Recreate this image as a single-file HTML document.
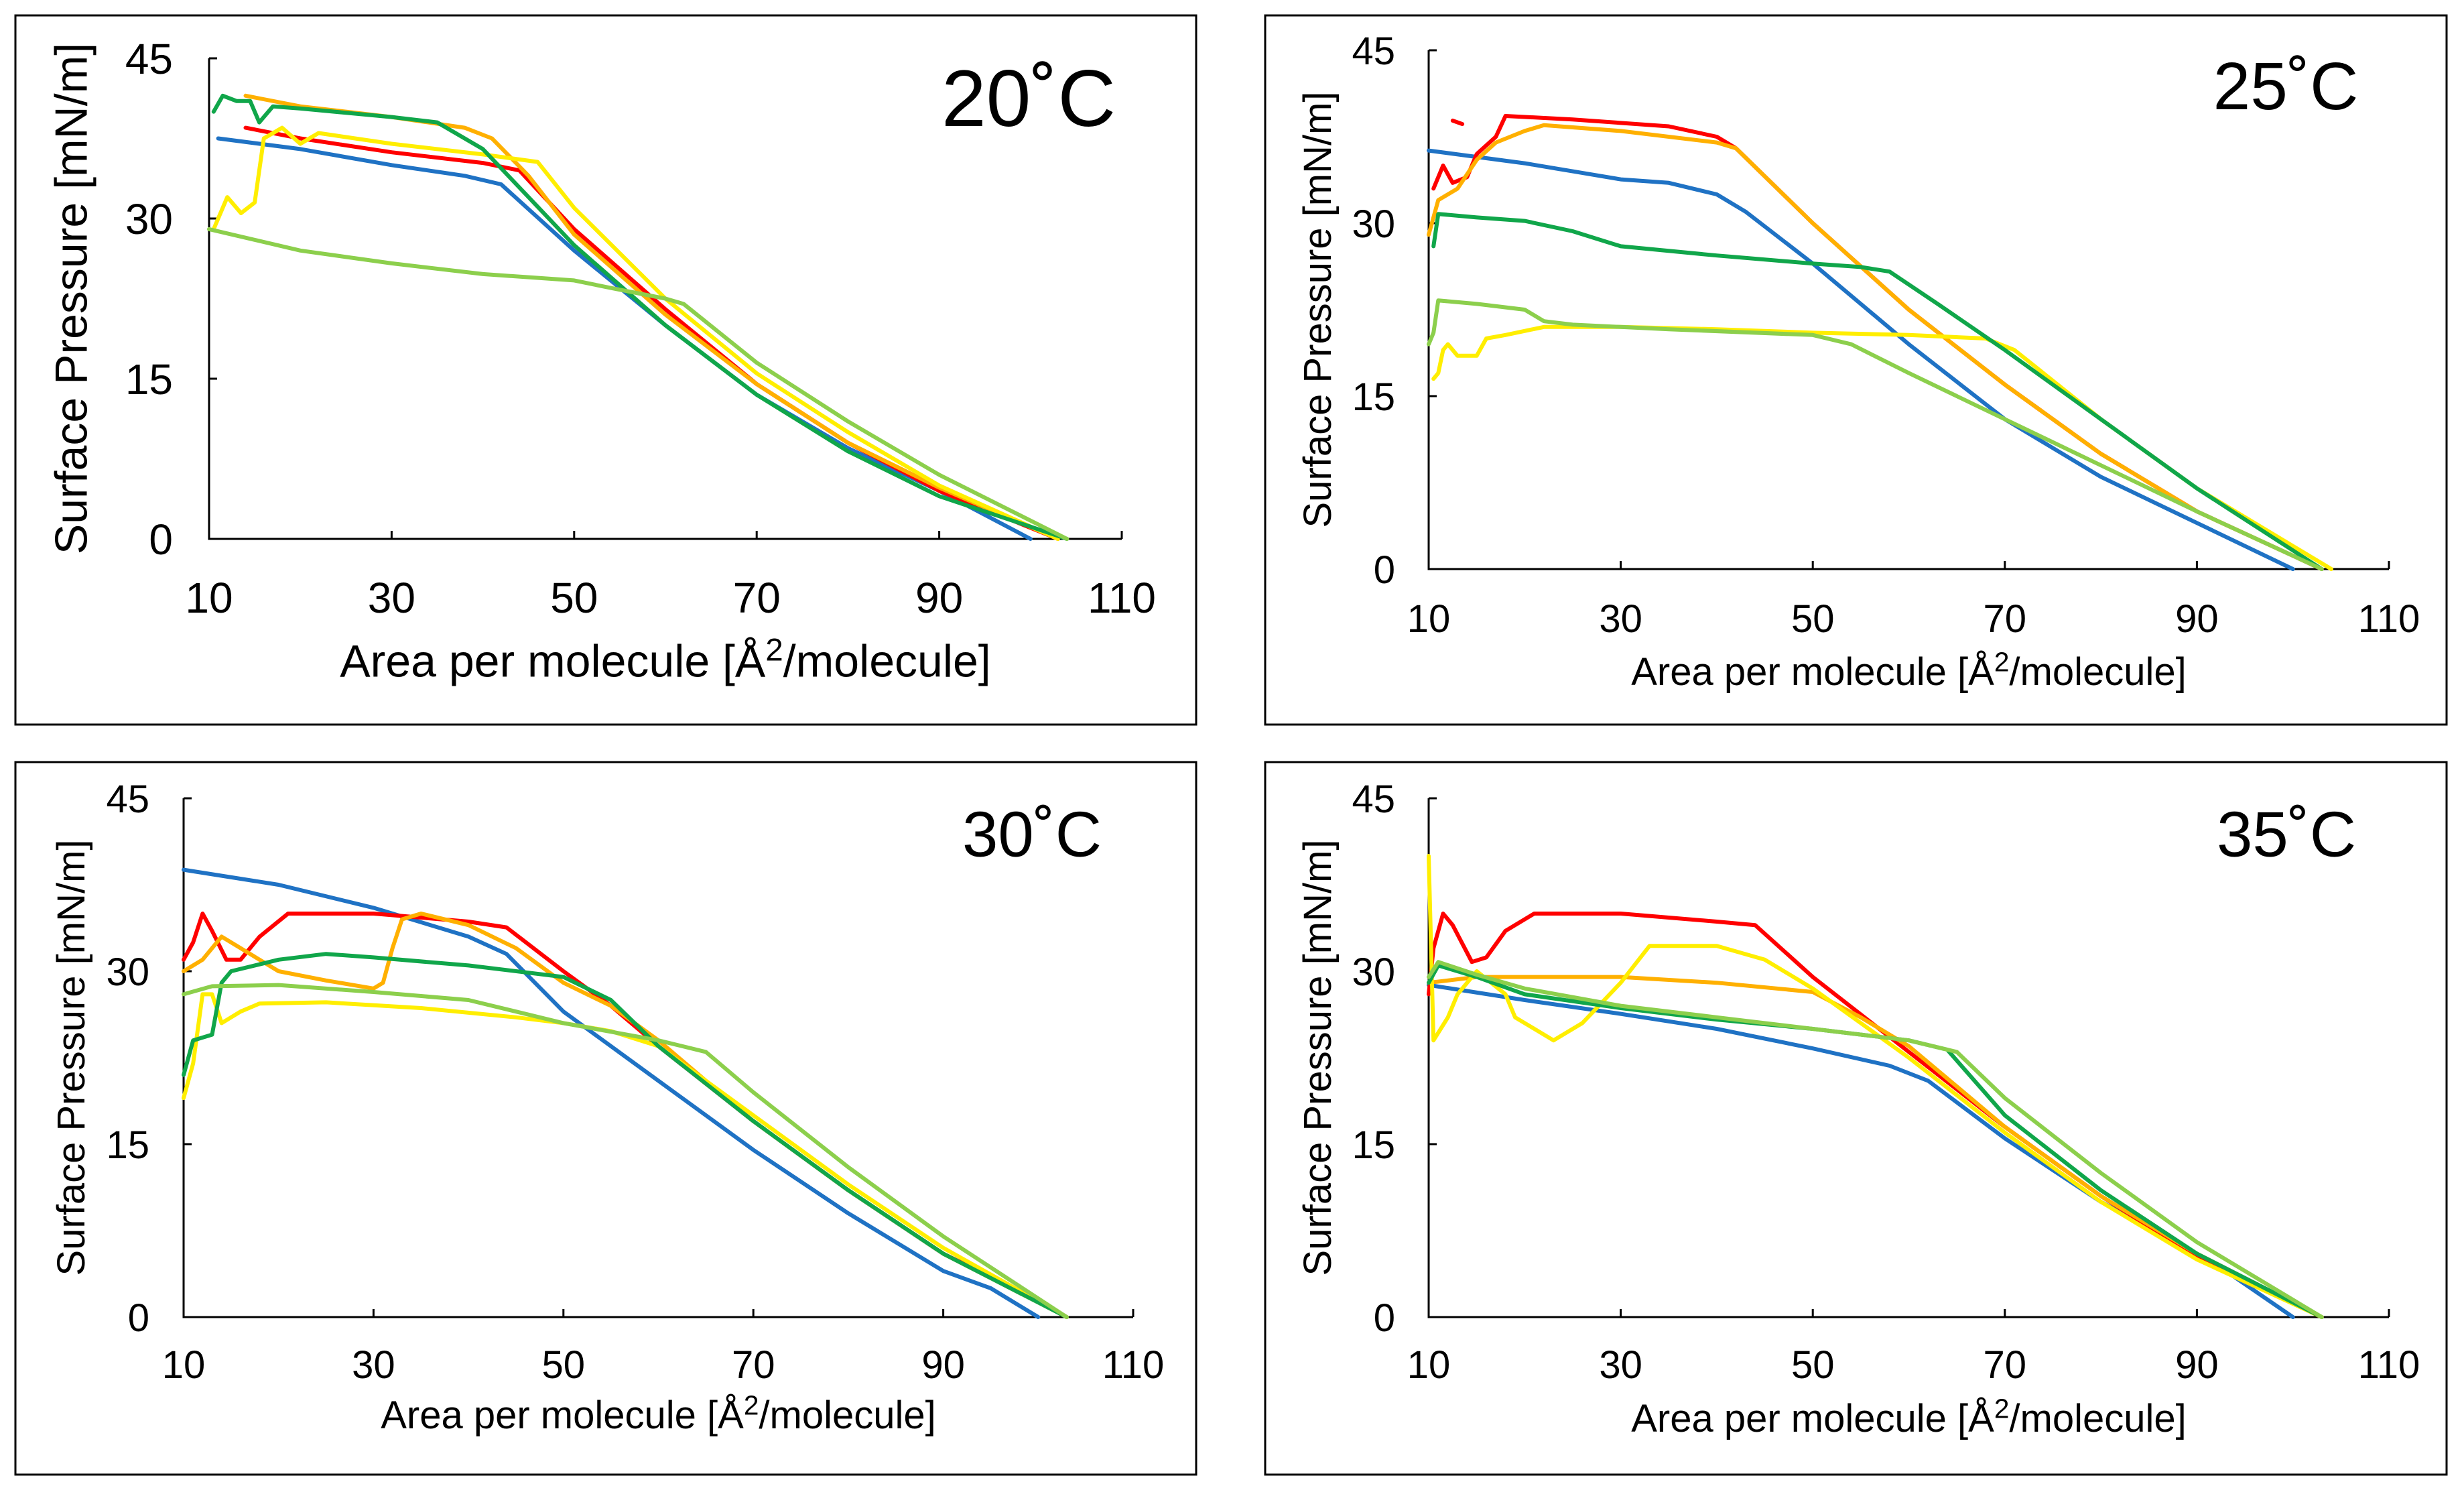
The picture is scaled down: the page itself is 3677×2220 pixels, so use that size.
<!DOCTYPE html>
<html><head><meta charset="utf-8">
<style>
html,body{margin:0;padding:0;background:#fff;}
svg{display:block;}
text{font-family:"Liberation Sans",sans-serif;fill:#000;}
</style></head>
<body>
<svg id="fig" xmlns="http://www.w3.org/2000/svg" width="3677" height="2220" viewBox="0 0 3677 2220"></svg>
<script>
// ---- data (Area per molecule, Surface pressure) ----
const xTicks = [10,30,50,70,90,110];
const yTicks = [0,15,30,45];
const seriesNames = ["blue","red","orange","yellow","dark-green","light-green"];
const seriesColors = ["#1f72c4","#ff0000","#ffb000","#ffee00","#10a64a","#8ccf4c"];
const temps = ["20˚C","25˚C","30˚C","35˚C"];

const p20_blue=[[11,37.5],[20,36.5],[30,35],[38,34],[42,33.2],[50,27],[60,20],[70,13.5],[80,8.5],[90,4.5],[100,0]];
const p20_red=[[14,38.5],[20,37.5],[30,36.2],[40,35.2],[44,34.5],[50,29],[60,21.5],[70,14.5],[80,9],[90,4.5],[103,0]];
const p20_orange=[[14,41.5],[20,40.5],[30,39.5],[38,38.5],[41,37.5],[45,34],[50,28.5],[60,21],[70,14.5],[80,9],[90,4.8],[103,0]];
const p20_yellow=[[10.5,29],[12,32],[13.5,30.5],[15,31.5],[16,37.5],[18,38.5],[20,37],[22,38],[30,37],[40,36],[46,35.3],[50,31],[60,22.5],[70,15.5],[80,10],[90,5],[103,0]];
const p20_dgreen=[[10.5,40],[11.5,41.5],[13,41],[14.5,41],[15.5,39],[17,40.5],[20,40.3],[30,39.5],[35,39],[40,36.5],[45,32],[50,27.5],[60,20],[70,13.5],[80,8.2],[90,4],[104,0]];
const p20_lgreen=[[10,29],[20,27],[30,25.8],[40,24.8],[50,24.2],[54,23.5],[60,22.5],[62,22],[70,16.5],[80,11],[90,6],[104,0]];

const p25_blue=[[10,36.3],[20,35.2],[25,34.5],[30,33.8],[35,33.5],[40,32.5],[43,31],[50,26.5],[60,19.5],[70,13],[80,8],[90,4],[100,0]];
const p25_red=[[10.5,33],[11.5,35],[12.5,33.5],[14,34],[15,36],[17,37.5],[18,39.3],[25,39],[35,38.4],[40,37.5],[42,36.5],[50,30],[56,25.5],[60,22.5],[70,16],[80,10],[90,5],[103,0]];
const p25_redDash=[[12.5,38.9],[13.5,38.6]];
const p25_orange=[[10,29],[11,32],[13,33],[15,35.5],[17,37],[20,38],[22,38.5],[30,38],[40,37],[42,36.5],[50,30],[56,25.5],[60,22.5],[70,16],[80,10],[90,5],[103,0]];
const p25_yellow=[[10.5,16.5],[11,17],[11.5,19],[12,19.5],[13,18.5],[15,18.5],[16,20],[18,20.3],[22,21],[30,21],[40,20.8],[50,20.5],[60,20.3],[68,20],[71,19],[80,13],[90,7],[104,0]];
const p25_dgreen=[[10.5,28],[11,30.8],[15,30.5],[20,30.2],[25,29.3],[30,28],[40,27.2],[50,26.5],[55,26.2],[58,25.8],[63,23],[70,19],[80,13],[90,7],[103,0]];
const p25_lgreen=[[10,19.5],[10.5,20.5],[11,23.3],[15,23],[20,22.5],[22,21.5],[25,21.2],[35,20.8],[50,20.3],[54,19.5],[60,17],[70,13],[80,9],[90,5],[103,0]];

const p30_blue=[[10,38.8],[20,37.5],[30,35.5],[40,33],[44,31.5],[50,26.5],[60,20.5],[70,14.5],[80,9],[90,4],[95,2.5],[100,0]];
const p30_red=[[10,31],[11,32.5],[12,35],[13,33.5],[14.5,31],[16,31],[18,33],[21,35],[30,35],[40,34.3],[44,33.8],[50,30],[55,27],[60,23.5],[70,17],[80,11],[90,5.5],[100,1.5],[103,0]];
const p30_orange=[[10,30],[12,31],[14,33],[16,32],[20,30],[25,29.2],[30,28.5],[31,29],[32,32],[33,34.5],[35,35],[40,34],[45,32],[50,29],[55,27],[60,24],[70,17],[80,11],[90,5.5],[103,0]];
const p30_yellow=[[10,19],[11,22],[12,28],[13,28],[14,25.5],[16,26.5],[18,27.2],[25,27.3],[35,26.8],[45,26],[50,25.5],[55,24.8],[60,23.5],[70,17.5],[80,11.5],[90,6],[103,0]];
const p30_dgreen=[[10,21],[11,24],[13,24.5],[14,29],[15,30],[20,31],[25,31.5],[30,31.2],[40,30.5],[50,29.5],[55,27.5],[60,23.5],[70,17],[80,11],[90,5.5],[103,0]];
const p30_lgreen=[[10,28],[13,28.7],[20,28.8],[30,28.2],[40,27.5],[50,25.5],[60,24],[65,23],[70,19.5],[80,13],[90,7],[103,0]];

const p35_blue=[[10,28.8],[20,27.5],[30,26.3],[40,25],[50,23.3],[58,21.8],[62,20.5],[70,15.5],[80,10],[90,5.5],[93,4],[100,0]];
const p35_red=[[10,28],[10.5,32],[11.5,35],[12.5,34],[14.5,30.8],[16,31.2],[18,33.5],[21,35],[30,35],[40,34.3],[44,34],[50,29.5],[60,23],[70,16.5],[80,10.5],[90,5.2],[103,0]];
const p35_orange=[[10,29],[15,29.5],[20,29.5],[30,29.5],[40,29],[50,28.2],[55,26],[60,23.5],[70,16.5],[80,10.5],[90,5.5],[103,0]];
const p35_yellow=[[10,40],[10.5,24],[12,26],[13,28],[15,30],[18,28],[19,26],[23,24],[26,25.5],[30,29],[33,32.2],[40,32.2],[45,31],[50,28.5],[60,22.5],[70,16],[80,10],[90,5],[103,0]];
const p35_dgreen=[[10,29],[11,30.5],[15,29.5],[20,28],[30,26.8],[40,25.8],[50,25],[60,24],[64,23.2],[70,17.5],[80,11],[90,5.5],[103,0]];
const p35_lgreen=[[10,29.5],[11,30.8],[15,29.7],[20,28.5],[30,27],[40,26],[50,25],[60,24],[65,23],[70,19],[80,12.5],[90,6.5],[103,0]];

const panelSeries = [
  [p20_blue,p20_red,p20_orange,p20_yellow,p20_dgreen,p20_lgreen],
  [p25_blue,p25_red,p25_orange,p25_yellow,p25_dgreen,p25_lgreen],
  [p30_blue,p30_red,p30_orange,p30_yellow,p30_dgreen,p30_lgreen],
  [p35_blue,p35_red,p35_orange,p35_yellow,p35_dgreen,p35_lgreen]
];

// ---- layout ----
const layouts = [
  {box:[23,23,1762,1058], x0:312, x1:1674, y0:804, y1:87, tf:64, ttf:68, tlc:891, yl:258, ytx:105, xtc:985, tx:1535, ty:145, tfs:120},
  {box:[1888,23,1763,1058], x0:2132, x1:3565, y0:849, y1:75, tf:58, ttf:58, tlc:922, yl:2082, ytx:1965, xtc:1001, tx:3411, ty:127, tfs:100},
  {box:[23,1137,1762,1063], x0:274, x1:1691, y0:1965, y1:1191, tf:58, ttf:58, tlc:2035, yl:223, ytx:105, xtc:2110, tx:1540, ty:1243, tfs:96},
  {box:[1888,1137,1763,1063], x0:2132, x1:3565, y0:1965, y1:1191, tf:58, ttf:58, tlc:2035, yl:2082, ytx:1965, xtc:2115, tx:3412, ty:1243, tfs:96}
];

const NS="http://www.w3.org/2000/svg";
const svg=document.getElementById('fig');
function mk(tag,attrs,parent){const e=document.createElementNS(NS,tag);for(const k in attrs)e.setAttribute(k,attrs[k]);parent.appendChild(e);return e;}

layouts.forEach((L,pi)=>{
  const g=mk('g',{},svg);
  
  
  const xs=v=>L.x0+(v-10)/100*(L.x1-L.x0);
  const ys=v=>L.y0+v/45*(L.y1-L.y0);
  const box=mk('rect',{x:L.box[0],y:L.box[1],width:L.box[2],height:L.box[3],fill:'#fff',stroke:'#000','stroke-width':3},g);
  
  
  const ax=mk('path',{d:`M${L.x0},${L.y1}V${L.y0}H${L.x1}`,fill:'none',stroke:'#000','stroke-width':3},g);
  
  
  xTicks.forEach(t=>{
    const X=xs(t);
    const tk=mk('line',{x1:X,x2:X,y1:L.y0,y2:L.y0-12,stroke:'#000','stroke-width':3},g);
    
    
    const tl=mk('text',{x:X,y:L.tlc+L.tf*0.36,'font-size':L.tf,'text-anchor':'middle'},g);
    tl.textContent=t;
    
    
  });
  yTicks.forEach(t=>{
    const Y=ys(t);
    const tk=mk('line',{x1:L.x0,x2:L.x0+12,y1:Y,y2:Y,stroke:'#000','stroke-width':3},g);
    
    
    const tl=mk('text',{x:L.yl,y:Y+L.tf*0.36,'font-size':L.tf,'text-anchor':'end'},g);
    tl.textContent=t;
    
    
  });
  const cy=(L.y0+L.y1)/2;
  const yt=mk('text',{x:L.ytx,y:cy,'font-size':L.ttf,'text-anchor':'middle',transform:`rotate(-90 ${L.ytx} ${cy})`,dy:L.ttf*0.36},g);
  yt.textContent='Surface Pressure [mN/m]';
  
  
  const xt=mk('text',{x:(L.x0+L.x1)/2,y:L.xtc+L.ttf*0.36,'font-size':L.ttf,'text-anchor':'middle'},g);
  xt.innerHTML='Area per molecule [Å<tspan font-size="'+(L.ttf*0.7)+'" dy="-'+(L.ttf*0.35)+'">2</tspan><tspan dy="'+(L.ttf*0.35)+'">/molecule]</tspan>';
  
  
  const tt=mk('text',{x:L.tx,y:L.ty+L.tfs*0.36,'font-size':L.tfs,'text-anchor':'middle'},g);
  tt.textContent=temps[pi];
  
  
  panelSeries[pi].forEach((pts,si)=>{
    const d=pts.map((p,i)=>(i?'L':'M')+xs(p[0]).toFixed(1)+','+ys(p[1]).toFixed(1)).join('');
    const ln=mk('path',{d:d,fill:'none',stroke:seriesColors[si],'stroke-width':6,'stroke-linejoin':'round','stroke-linecap':'round'},g);
    
    
  });
  if(pi===1){
    const d=p25_redDash.map((p,i)=>(i?'L':'M')+xs(p[0])+','+ys(p[1])).join('');
    const ln=mk('path',{d:d,fill:'none',stroke:seriesColors[1],'stroke-width':6,'stroke-linecap':'round'},g);
    
    
  }
});
</script>
</body></html>
